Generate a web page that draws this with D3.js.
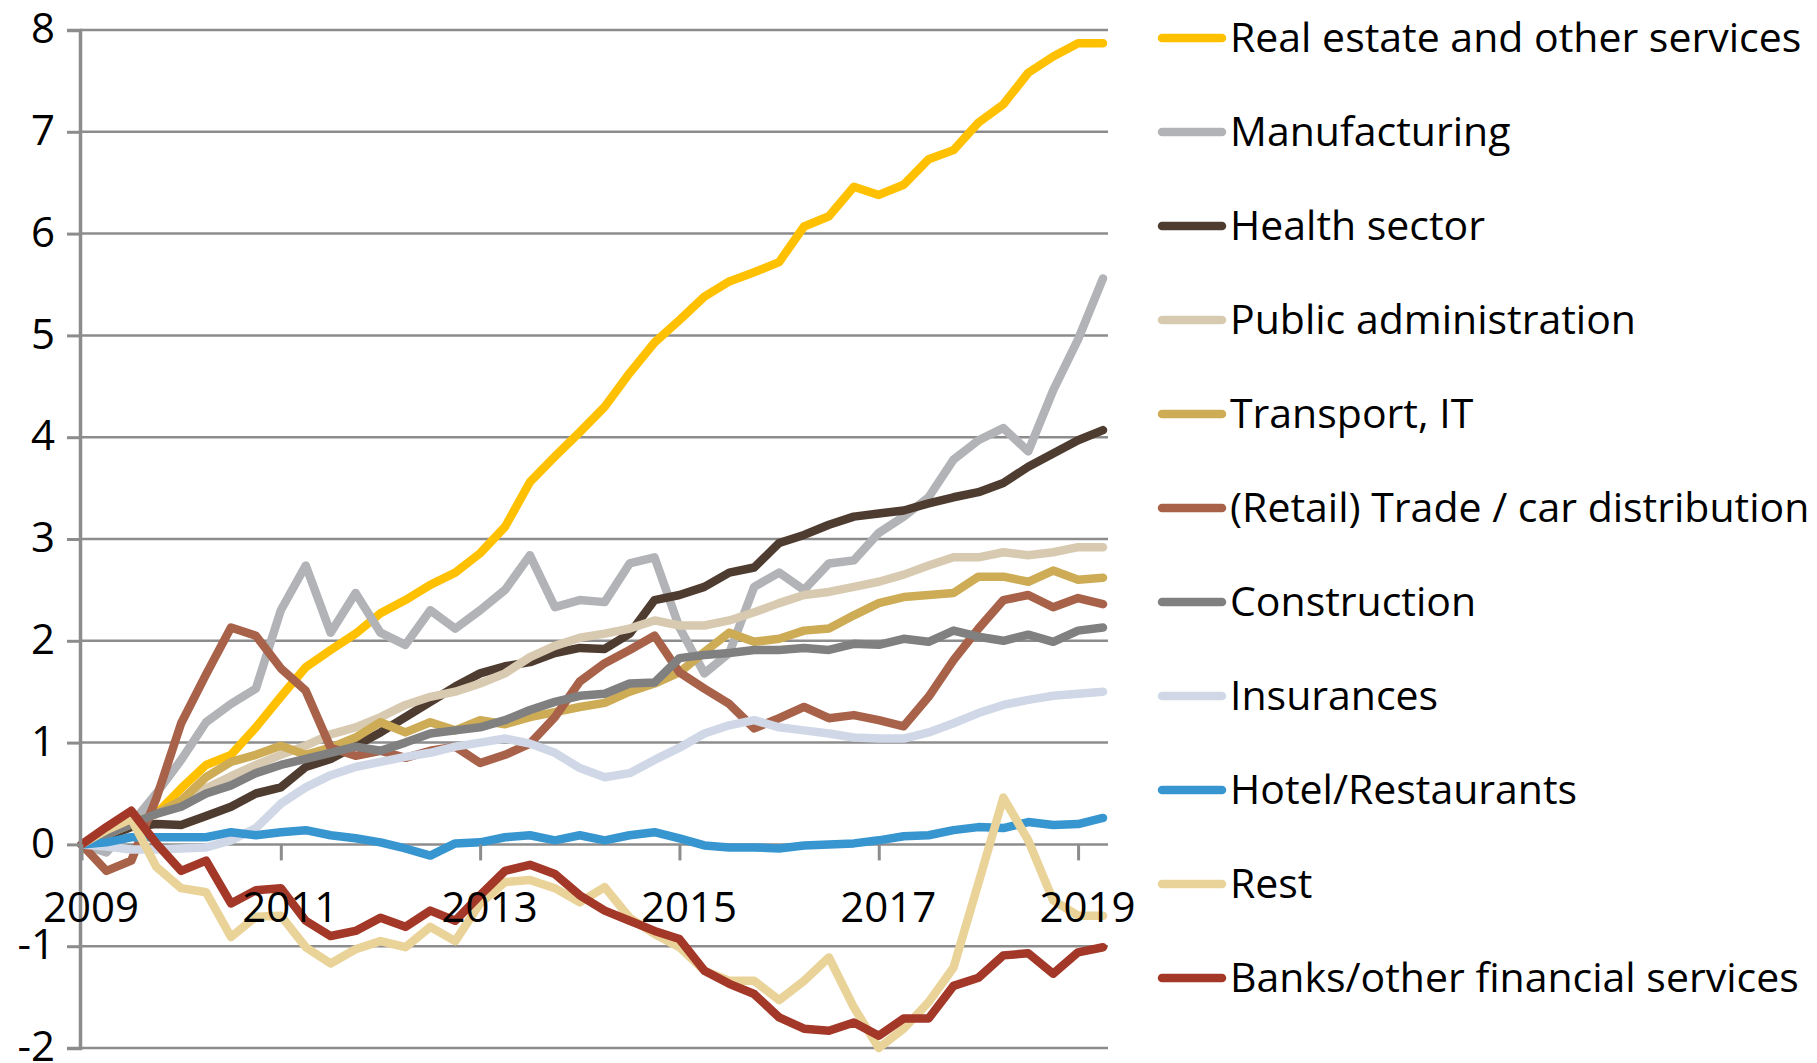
<!DOCTYPE html>
<html>
<head>
<meta charset="utf-8">
<script src="https://cdn.jsdelivr.net/npm/d3@7"></script>
<style>
  body { margin: 0; background: #fff; }
  text { font-family: "Open Sans", sans-serif; fill: #000; }
</style>
</head>
<body>
<svg id="Chart"></svg>
<script>
// quarterly categories, 2009Q1 - 2019Q2
let quarters = [
  "2009Q1","2009Q2","2009Q3","2009Q4","2010Q1","2010Q2","2010Q3","2010Q4",
  "2011Q1","2011Q2","2011Q3","2011Q4","2012Q1","2012Q2","2012Q3","2012Q4",
  "2013Q1","2013Q2","2013Q3","2013Q4","2014Q1","2014Q2","2014Q3","2014Q4",
  "2015Q1","2015Q2","2015Q3","2015Q4","2016Q1","2016Q2","2016Q3","2016Q4",
  "2017Q1","2017Q2","2017Q3","2017Q4","2018Q1","2018Q2","2018Q3","2018Q4",
  "2019Q1","2019Q2"
]
let xTickQuarters = ["2009Q1","2011Q1","2013Q1","2015Q1","2017Q1","2019Q1"]
let yTicks = [-2, -1, 0, 1, 2, 3, 4, 5, 6, 7, 8]

let seriesNames = [
  "Real estate and other services", "Manufacturing", "Health sector",
  "Public administration", "Transport, IT", "(Retail) Trade / car distribution",
  "Construction", "Insurances", "Hotel/Restaurants", "Rest",
  "Banks/other financial services"
]
let seriesColors = [
  "#FFC000", "#B1B3B6", "#4F3C30", "#D8CAB1", "#CDAC55", "#A8624A",
  "#808080", "#D0D8E7", "#3795CF", "#EAD398", "#A33728"
]

let realEstate = [0, 0.1, 0.2, 0.3, 0.55, 0.78, 0.88, 1.15, 1.45, 1.74,
  1.91, 2.07, 2.27, 2.4, 2.55, 2.67, 2.86, 3.12, 3.56, 3.81,
  4.05, 4.3, 4.63, 4.93, 5.15, 5.38, 5.53, 5.62, 5.72, 6.07,
  6.17, 6.46, 6.38, 6.48, 6.73, 6.82, 7.09, 7.27, 7.58, 7.74, 7.87, 7.87]
let manufacturing = [0, -0.08, 0.2, 0.5, 0.83, 1.2, 1.38, 1.53, 2.3, 2.74,
  2.08, 2.47, 2.08, 1.96, 2.3, 2.12, 2.3, 2.5, 2.84, 2.33,
  2.4, 2.38, 2.76, 2.82, 2.13, 1.68, 1.88, 2.53, 2.67, 2.5,
  2.76, 2.79, 3.06, 3.22, 3.41, 3.78, 3.97, 4.09, 3.86, 4.46, 4.96, 5.56]
let health = [0, 0.08, 0.17, 0.2, 0.19, 0.28, 0.37, 0.5, 0.56, 0.76,
  0.84, 0.97, 1.1, 1.25, 1.4, 1.55, 1.68, 1.75, 1.79, 1.88,
  1.93, 1.92, 2.07, 2.4, 2.45, 2.53, 2.67, 2.72, 2.96, 3.04,
  3.14, 3.22, 3.25, 3.28, 3.35, 3.41, 3.46, 3.55, 3.71, 3.84, 3.97, 4.07]
let publicAdmin = [0, 0.1, 0.2, 0.3, 0.42, 0.55, 0.67, 0.78, 0.88, 0.97,
  1.08, 1.15, 1.25, 1.37, 1.45, 1.5, 1.58, 1.68, 1.84, 1.95,
  2.03, 2.07, 2.12, 2.2, 2.15, 2.15, 2.2, 2.28, 2.37, 2.45,
  2.48, 2.53, 2.58, 2.65, 2.74, 2.82, 2.82, 2.87, 2.84, 2.87, 2.92, 2.92]
let transportIT = [0, 0.1, 0.2, 0.3, 0.43, 0.66, 0.81, 0.88, 0.97, 0.88,
  0.95, 1.05, 1.2, 1.1, 1.2, 1.12, 1.22, 1.18, 1.25, 1.3,
  1.35, 1.39, 1.5, 1.58, 1.69, 1.89, 2.08, 1.99, 2.02, 2.1,
  2.12, 2.25, 2.37, 2.43, 2.45, 2.47, 2.63, 2.63, 2.58, 2.69, 2.6, 2.62]
let trade = [0, -0.26, -0.16, 0.45, 1.19, 1.67, 2.13, 2.05, 1.73, 1.51,
  0.95, 0.87, 0.92, 0.85, 0.92, 0.96, 0.8, 0.88, 0.99, 1.25,
  1.6, 1.78, 1.91, 2.05, 1.69, 1.53, 1.38, 1.14, 1.24, 1.35,
  1.24, 1.27, 1.22, 1.16, 1.45, 1.81, 2.12, 2.4, 2.45, 2.33, 2.42, 2.36]
let construction = [0, 0.1, 0.2, 0.3, 0.37, 0.5, 0.58, 0.7, 0.78, 0.84,
  0.9, 0.96, 0.92, 1.0, 1.09, 1.12, 1.15, 1.22, 1.32, 1.4,
  1.46, 1.48, 1.58, 1.59, 1.83, 1.86, 1.88, 1.91, 1.91, 1.93,
  1.91, 1.97, 1.96, 2.02, 1.99, 2.1, 2.04, 2.0, 2.06, 1.99, 2.1, 2.13]
let insurances = [0, -0.02, -0.05, -0.05, -0.04, -0.03, 0.04, 0.16, 0.4, 0.56,
  0.68, 0.76, 0.81, 0.86, 0.9, 0.96, 1.0, 1.04, 0.99, 0.9,
  0.75, 0.66, 0.7, 0.83, 0.95, 1.09, 1.17, 1.22, 1.15, 1.12,
  1.09, 1.05, 1.04, 1.04, 1.1, 1.19, 1.29, 1.37, 1.42, 1.46, 1.48, 1.5]
let hotels = [0, 0.02, 0.07, 0.07, 0.07, 0.07, 0.12, 0.09, 0.12, 0.14,
  0.09, 0.06, 0.02, -0.04, -0.11, 0.01, 0.02, 0.07, 0.09, 0.04,
  0.09, 0.04, 0.09, 0.12, 0.06, -0.01, -0.03, -0.03, -0.04, -0.01,
  0.0, 0.01, 0.04, 0.08, 0.09, 0.14, 0.17, 0.16, 0.22, 0.19, 0.2, 0.26]
let rest = [0, 0.14, 0.25, -0.22, -0.43, -0.47, -0.91, -0.71, -0.7, -1.01,
  -1.17, -1.03, -0.95, -1.01, -0.81, -0.95, -0.58, -0.37, -0.35, -0.43,
  -0.57, -0.42, -0.72, -0.88, -1.01, -1.24, -1.34, -1.34, -1.53, -1.34,
  -1.11, -1.6, -2.0, -1.81, -1.55, -1.21, -0.38, 0.46, 0.04, -0.55, -0.7, -0.7]
let banks = [0, 0.17, 0.33, 0.01, -0.26, -0.16, -0.58, -0.45, -0.43, -0.75,
  -0.9, -0.85, -0.72, -0.81, -0.65, -0.75, -0.5, -0.26, -0.2, -0.29,
  -0.5, -0.65, -0.75, -0.85, -0.93, -1.24, -1.37, -1.47, -1.7, -1.81,
  -1.83, -1.75, -1.88, -1.71, -1.71, -1.39, -1.31, -1.09, -1.07, -1.27, -1.06, -1.01]

let seriesValues = [realEstate, manufacturing, health, publicAdmin, transportIT,
  trade, construction, insurances, hotels, rest, banks]

function getConfig() {
  let width = 1817
  let height = 1063
  let plot = { left: 80, right: 1108, top: 30, bottom: 1048 }
  let container = d3.select("#Chart")
    .attr("width", width)
    .attr("height", height)
  return { width, height, plot, container }
}

function getScales(config) {
  let { plot } = config
  let xScale = d3.scalePoint()
    .domain(quarters)
    .range([81.5, 1103])
  let yScale = d3.scaleLinear()
    .domain([-2, 8])
    .range([plot.bottom, plot.top])
  return { xScale, yScale }
}

function drawGrid(scales, config) {
  let { yScale } = scales
  let { container, plot } = config
  // horizontal gridlines
  container.append("g")
    .selectAll("line")
    .data(yTicks)
    .enter().append("line")
    .attr("x1", plot.left)
    .attr("x2", plot.right)
    .attr("y1", d => yScale(d))
    .attr("y2", d => yScale(d))
    .attr("stroke", "#8c8c8c")
    .attr("stroke-width", 2.5)
}

function drawAxes(scales, config) {
  let { xScale, yScale } = scales
  let { container, plot } = config

  let axisY = d3.axisLeft(yScale)
    .tickValues(yTicks)
    .tickSize(13)
    .tickFormat(d => d < 0 ? "-" + Math.abs(d) : d)
  let gy = container.append("g")
    .attr("transform", `translate(${plot.left},0)`)
    .call(axisY)
  gy.select(".domain").attr("stroke", "#8c8c8c").attr("stroke-width", 3.5)
  gy.selectAll(".tick line").attr("stroke", "#8c8c8c").attr("stroke-width", 3)
  gy.selectAll(".tick text")
    .attr("x", -25)
    .attr("dy", "0.3em")
    .style("font-size", "42px")

  let axisX = d3.axisBottom(xScale)
    .tickValues(xTickQuarters)
    .tickSize(16)
    .tickSizeOuter(0)
    .tickFormat(d => d.slice(0, 4))
  let gx = container.append("g")
    .attr("transform", `translate(0,${yScale(0)})`)
    .call(axisX)
  gx.select(".domain").remove()
  gx.selectAll(".tick line").attr("stroke", "#8c8c8c").attr("stroke-width", 3)
  gx.selectAll(".tick text")
    .attr("x", 9)
    .attr("y", 78)
    .attr("dy", 0)
    .style("font-size", "42px")
}

function drawLines(scales, config) {
  let { xScale, yScale } = scales
  let { container } = config
  let line = d3.line()
    .x((d, i) => xScale(quarters[i]))
    .y(d => yScale(d))

  container.append("g")
    .selectAll("path")
    .data(seriesValues)
    .enter().append("path")
    .attr("d", d => line(d))
    .attr("fill", "none")
    .attr("stroke", (d, i) => seriesColors[i])
    .attr("stroke-width", 8.5)
    .attr("stroke-linejoin", "round")
    .attr("stroke-linecap", "round")
}

function drawLegend(config) {
  let { container } = config
  let rowY = d3.scalePoint()
    .domain(seriesNames)
    .range([38, 978])

  let items = container.append("g")
    .selectAll("g")
    .data(seriesNames)
    .enter().append("g")
    .attr("transform", d => `translate(0,${rowY(d)})`)

  items.append("line")
    .attr("x1", 1162)
    .attr("x2", 1222)
    .attr("stroke", (d, i) => seriesColors[i])
    .attr("stroke-width", 8.5)
    .attr("stroke-linecap", "round")

  items.append("text")
    .attr("x", 1230)
    .attr("dy", "0.35em")
    .style("font-size", "41px")
    .text(d => d)
}

function drawChart() {
  let config = getConfig()
  let scales = getScales(config)
  drawGrid(scales, config)
  drawLines(scales, config)
  drawAxes(scales, config)
  drawLegend(config)
}

drawChart()
</script>
</body>
</html>
